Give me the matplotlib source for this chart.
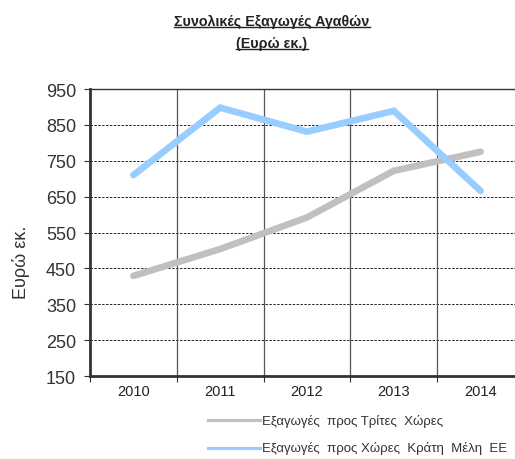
import matplotlib
matplotlib.use("Agg")
import matplotlib.pyplot as plt
from matplotlib.lines import Line2D

years = ["2010", "2011", "2012", "2013", "2014"]
third_countries = [429, 504, 592, 722, 775]
eu_members = [710, 898, 831, 889, 666]
yticks = [150, 250, 350, 450, 550, 650, 750, 850, 950]
label_third = "Εξαγωγές  προς Τρίτες  Χώρες"
label_eu = "Εξαγωγές  προς Χώρες  Κράτη  Μέλη  ΕΕ"
title_lines = ["Συνολικές Εξαγωγές Αγαθών", "(Ευρώ εκ.)"]
ylabel = "Ευρώ εκ."

plt.rcParams['font.family'] = ['Liberation Sans', 'DejaVu Sans']

W, H = 515, 460
fig = plt.figure(figsize=(W / 100, H / 100), dpi=100)
left, right, top, bottom = 90, 524, 90, 377
ax = fig.add_axes([left / W, 1 - bottom / H, (right - left) / W, (bottom - top) / H])

x = list(range(len(years)))
ax.plot(x, third_countries, color="#c0c0c0", lw=4.8, solid_capstyle="round", solid_joinstyle="miter", zorder=3)
ax.plot(x, eu_members, color="#99ccff", lw=4.8, solid_capstyle="round", solid_joinstyle="miter", zorder=4)

ax.set_xlim(-0.5, len(years) - 0.5)
ax.set_ylim(150, 950)
ax.set_yticks(yticks)
ax.set_yticklabels([str(v) for v in yticks], fontsize=13, color="#333333")
ax.set_xticks([i - 0.5 for i in range(len(years) + 1)])
ax.set_xticklabels([])
ax.set_xticks(x, minor=True)
ax.set_xticklabels(years, minor=True, fontsize=10.5, color="#222222")
ax.tick_params(axis='x', which='minor', length=0, pad=6)
ax.tick_params(axis='x', which='major', length=4, direction='out', color="#333333")
ax.tick_params(axis='y', length=4, direction='out', color="#333333", pad=6)

for yv in yticks[1:-1]:
    ax.axhline(yv, color="#222222", lw=0.7, ls=(0, (2.5, 1.5)), zorder=1)
for i in range(1, len(years)):
    ax.axvline(i - 0.5, color="#555555", lw=0.9, zorder=1)

for s in ["left", "bottom"]:
    ax.spines[s].set_linewidth(2)
    ax.spines[s].set_color("#333333")
for s in ["top", "right"]:
    ax.spines[s].set_linewidth(1)
    ax.spines[s].set_color("#333333")

fig.text(21 / W, 1 - 262 / H, ylabel, rotation=90, ha="center", va="center", fontsize=13, color="#333333")

# title with underline
t1 = fig.text(272 / W, 1 - 22 / H, title_lines[0], ha="center", va="center", fontsize=10.3, fontweight="bold", color="#222222")
t2 = fig.text(272 / W, 1 - 44 / H, title_lines[1], ha="center", va="center", fontsize=10.3, fontweight="bold", color="#222222")
fig.canvas.draw()
r = fig.canvas.get_renderer()
for t in (t1, t2):
    bb = t.get_window_extent(r)
    yline = bb.y0 + 1
    fig.add_artist(Line2D([bb.x0 / W, bb.x1 / W], [yline / H, yline / H], transform=fig.transFigure, color="#222222", lw=1))

# legend
for ly, col, lab in [(421, "#c0c0c0", label_third), (449, "#99ccff", label_eu)]:
    fig.add_artist(Line2D([208 / W, 260 / W], [1 - ly / H, 1 - ly / H], transform=fig.transFigure, color=col, lw=2.3))
    fig.text(262 / W, 1 - ly / H, lab, ha="left", va="center", fontsize=9.5, color="#333333")

fig.savefig("out.png", dpi=100)
